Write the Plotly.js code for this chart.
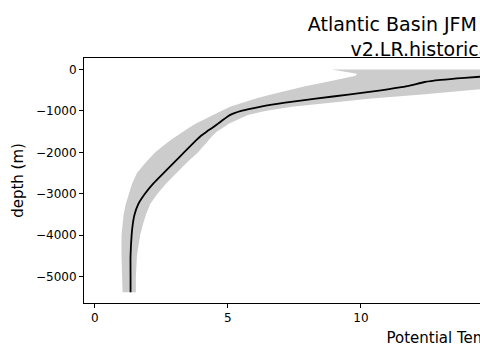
<!DOCTYPE html>
<html><head><meta charset="utf-8">
<script src="https://cdn.plot.ly/plotly-3.0.1.min.js"></script>
<style>html,body{margin:0;padding:0;overflow:hidden;width:480px;height:360px;background:#fff}</style>
</head><body><div id="chart"></div>
<script>
const depth =    [0, -50, -100, -150, -200, -250, -300, -400, -500, -600, -700, -800, -900, -1000, -1100, -1200, -1300, -1400, -1500, -1600, -1700, -1800, -2000, -2250, -2500, -2750, -3000, -3250, -3500, -3750, -4000, -4500, -5000, -5380];
const meanTemp = [19.0, 18.0, 16.8, 15.0, 13.9, 13.0, 12.4, 11.75, 10.75, 9.6, 8.3, 7.15, 6.2, 5.5, 5.07, 4.85, 4.64, 4.43, 4.2, 3.99, 3.82, 3.66, 3.35, 2.97, 2.58, 2.2, 1.88, 1.63, 1.49, 1.42, 1.38, 1.34, 1.34, 1.34];
const bandLow =  [8.9, 9.4, 9.85, 9.8, 9.45, 9.05, 8.7, 7.9, 7.2, 6.62, 6.05, 5.55, 5.08, 4.75, 4.42, 4.08, 3.8, 3.55, 3.3, 3.07, 2.85, 2.65, 2.27, 1.9, 1.58, 1.4, 1.27, 1.16, 1.08, 1.03, 1.0, 1.0, 1.01, 1.04];
const bandHigh = [23.0, 22.0, 21.0, 20.0, 19.0, 18.3, 17.6, 15.8, 14.0, 12.3, 10.4, 8.85, 7.4, 6.4, 5.75, 5.4, 5.05, 4.8, 4.58, 4.42, 4.28, 4.14, 3.88, 3.45, 3.05, 2.68, 2.35, 2.08, 1.92, 1.8, 1.7, 1.58, 1.54, 1.54];
const xTicks = [0, 5, 10, 15, 20, 25];
const yTicks = [0, -1000, -2000, -3000, -4000, -5000];
const titleText = 'Atlantic Basin JFM Climatology<br>v2.LR.historical_0101';
const xLabel = 'Potential Temperature (°C)';
const yLabel = 'depth (m)';

const W = 900, H = 360;
const font = 'DejaVu Sans, sans-serif';

const bandX = bandLow.concat(bandHigh.slice().reverse());
const bandY = depth.concat(depth.slice().reverse());

const traces = [
  {x: bandX, y: bandY, type: 'scatter', mode: 'lines', fill: 'toself',
   fillcolor: '#cccccc', line: {width: 0, color: '#cccccc'}, hoverinfo: 'skip', showlegend: false},
  {x: meanTemp, y: depth, type: 'scatter', mode: 'lines',
   line: {color: '#000000', width: 1.8, shape: 'spline', smoothing: 0.6}, showlegend: false}
];

const axisCommon = {
  showgrid: false, zeroline: false, showline: true, mirror: true,
  linecolor: '#000', linewidth: 1, ticks: 'outside', ticklen: 4, tickwidth: 1, tickcolor: '#000',
  tickfont: {family: font, size: 12, color: '#000'}
};

const layout = {
  width: W, height: H,
  margin: {l: 84, r: 11, t: 58, b: 57, pad: 0},
  paper_bgcolor: '#fff', plot_bgcolor: '#fff',
  showlegend: false,
  title: {text: titleText, font: {family: font, size: 19, color: '#000'},
          xref: 'container', x: 452 / W, xanchor: 'center',
          yref: 'container', y: 1 - 31 / H, yanchor: 'top'},
  xaxis: Object.assign({}, axisCommon, {
    range: [-0.41, 29.85], tickvals: xTicks, ticktext: xTicks.map(String),
    title: {text: xLabel, font: {family: font, size: 15, color: '#000'}, standoff: 8}
  }),
  yaxis: Object.assign({}, axisCommon, {
    range: [-5640, 280], tickvals: yTicks,
    ticktext: yTicks.map(v => v < 0 ? '\u2212' + Math.abs(v) : String(v)),
    title: {text: yLabel, font: {family: font, size: 15, color: '#000'}, standoff: 8}
  })
};

Plotly.newPlot('chart', traces, layout, {staticPlot: true, displayModeBar: false});
</script>
</body></html>
